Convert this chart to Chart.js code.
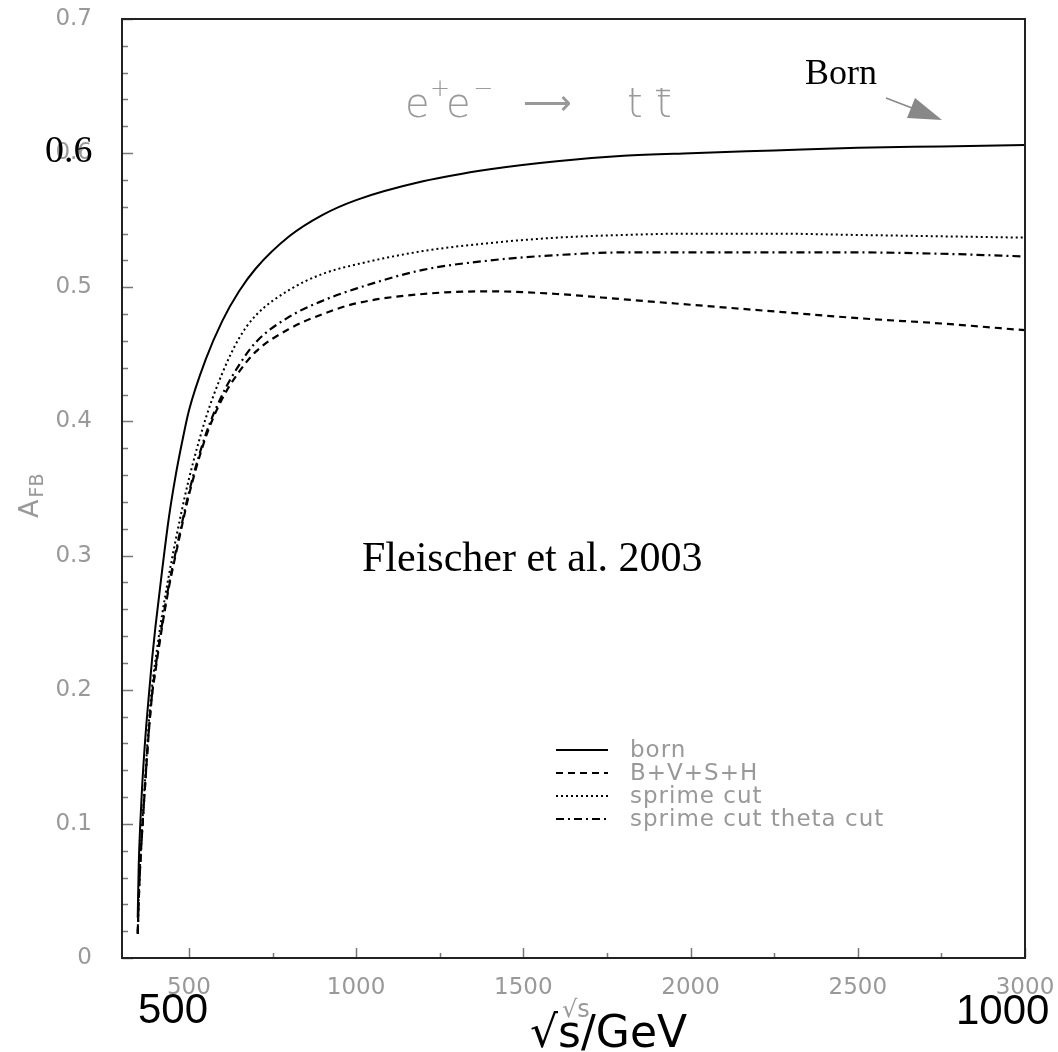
<!DOCTYPE html>
<html lang="en">
<head>
  <meta charset="UTF-8" />
  <title>A_FB vs sqrt(s)</title>
  <script src="https://cdn.jsdelivr.net/npm/chart.js"></script>
  <style>
    body { margin: 0; background: #fff; }
    #wrap { width: 1058px; height: 1052px; }
  </style>
</head>
<body>
  <div id="wrap"><canvas id="afbChart" width="1058" height="1052"></canvas></div>
  <script>
    // sqrt(s) in GeV, shared by all four curves
    const sqrtS = [347, 350, 355, 360, 370, 380, 390, 400, 420, 440, 460, 480, 500, 550, 600, 650, 700,
                   800, 900, 1000, 1200, 1400, 1600, 1800, 2000, 2250, 2500, 2750, 3000];

    const born = [0.030, 0.069, 0.102, 0.127, 0.165, 0.195, 0.223, 0.247, 0.289, 0.328, 0.359, 0.385, 0.408,
                  0.446, 0.475, 0.497, 0.514, 0.538, 0.554, 0.565, 0.579, 0.588, 0.594, 0.598, 0.600,
                  0.602, 0.604, 0.605, 0.606];
    const bvsh = [0.018, 0.042, 0.072, 0.093, 0.132, 0.168, 0.196, 0.214, 0.247, 0.276, 0.300, 0.323, 0.345,
                  0.388, 0.417, 0.437, 0.452, 0.469, 0.480, 0.488, 0.495, 0.497, 0.495, 0.491, 0.487,
                  0.482, 0.477, 0.473, 0.468];
    const sprimeCut = [0.020, 0.045, 0.075, 0.097, 0.137, 0.175, 0.203, 0.222, 0.256, 0.285, 0.311, 0.335, 0.357,
                       0.402, 0.436, 0.462, 0.479, 0.498, 0.510, 0.517, 0.527, 0.533, 0.537, 0.539, 0.540,
                       0.540, 0.539, 0.538, 0.537];
    const sprimeThetaCut = [0.018, 0.043, 0.073, 0.094, 0.133, 0.169, 0.197, 0.216, 0.249, 0.278, 0.302, 0.325, 0.347,
                            0.390, 0.420, 0.442, 0.459, 0.478, 0.490, 0.499, 0.513, 0.520, 0.524, 0.526, 0.526,
                            0.526, 0.526, 0.525, 0.523];

    const seriesLabels = ['born', 'B+V+S+H', 'sprime cut', 'sprime cut theta cut'];
    const xTicks = [500, 1000, 1500, 2000, 2500, 3000];
    const yTicks = [0, 0.1, 0.2, 0.3, 0.4, 0.5, 0.6, 0.7];

    const toPoints = ys => sqrtS.map((x, i) => ({ x: x, y: ys[i] }));

    const GRAY = '#999';

    // frame, inward ticks, labels and legend drawn on top of the chart
    const overlay = {
      id: 'overlay',
      afterDatasetsDraw(chart) {
        const { ctx, chartArea: a, scales: { x, y } } = chart;
        ctx.save();
        ctx.strokeStyle = '#777';
        ctx.lineWidth = 1.5;
        ctx.beginPath();
        for (let i = 0; i <= 35; i++) {
          const py = Math.round(y.getPixelForValue(i * 0.02)) + 0.5;
          const len = i % 5 === 0 ? 11 : 6;
          ctx.moveTo(a.left, py);
          ctx.lineTo(a.left + len, py);
        }
        for (let v = 500; v <= 3000; v += 250) {
          const px = Math.round(x.getPixelForValue(v)) + 0.5;
          const len = v % 500 === 0 ? 10 : 5;
          ctx.moveTo(px, a.bottom);
          ctx.lineTo(px, a.bottom - len);
        }
        ctx.stroke();
        ctx.strokeStyle = '#222';
        ctx.lineWidth = 2;
        ctx.strokeRect(a.left, a.top, a.right - a.left, a.bottom - a.top);
        ctx.restore();
      },
      afterDraw(chart) {
        const ctx = chart.ctx;
        ctx.save();

        // y axis title A_FB
        ctx.fillStyle = GRAY;
        ctx.translate(38, 518);
        ctx.rotate(-Math.PI / 2);
        ctx.font = '27px "DejaVu Sans"';
        ctx.textBaseline = 'alphabetic';
        ctx.fillText('A', 0, 0);
        const aw = ctx.measureText('A').width;
        ctx.font = '19px "DejaVu Sans"';
        ctx.fillText('FB', aw + 2, 5);
        ctx.setTransform(1, 0, 0, 1, 0, 0);

        // process label
        ctx.font = '200 40px "DejaVu Sans"';
        ctx.fillText('e', 405, 117);
        ctx.fillText('e', 446, 117);
        ctx.fillText('t', 627, 117);
        ctx.fillText('t', 656, 117);
        ctx.font = '200 24px "DejaVu Sans"';
        ctx.fillText('+', 430, 96);
        ctx.fillText('\u2212', 473, 96);
        ctx.font = '200 34px "DejaVu Sans"';
        ctx.fillText('\u27F6', 523, 114);
        ctx.strokeStyle = GRAY;
        ctx.lineWidth = 1.5;
        ctx.beginPath();
        ctx.moveTo(656, 90.5);
        ctx.lineTo(670, 90.5);
        ctx.stroke();

        // Born label with arrow
        ctx.fillStyle = '#000';
        ctx.font = '36px "Liberation Serif"';
        ctx.fillText('Born', 805, 84);
        ctx.strokeStyle = '#888';
        ctx.lineWidth = 1.5;
        ctx.beginPath();
        ctx.moveTo(886, 98);
        ctx.lineTo(912, 108);
        ctx.stroke();
        ctx.fillStyle = '#888';
        ctx.beginPath();
        ctx.moveTo(915, 98);
        ctx.lineTo(907, 118);
        ctx.lineTo(942, 120);
        ctx.closePath();
        ctx.fill();

        // big black overlay labels
        ctx.fillStyle = '#000';
        ctx.font = '38px "Liberation Serif"';
        ctx.fillText('0.6', 45, 162);
        ctx.font = '42px "Liberation Serif"';
        ctx.fillText('Fleischer et al. 2003', 362, 571);

        // original x axis title (grey, mostly hidden)
        ctx.fillStyle = GRAY;
        ctx.font = '24px "DejaVu Sans"';
        ctx.fillText('\u221As', 562, 1017);

        ctx.fillStyle = '#000';
        ctx.font = '42px "Liberation Sans"';
        ctx.fillText('500', 138, 1023);
        ctx.fillText('1000', 956, 1024);
        ctx.font = '44px "DejaVu Sans"';
        ctx.fillText('\u221As/GeV', 530, 1047);

        // legend
        const rows = [750, 773, 796, 819];
        chart.data.datasets.forEach((ds, i) => {
          ctx.strokeStyle = '#000';
          ctx.lineWidth = 2;
          ctx.setLineDash(ds.borderDash || []);
          ctx.beginPath();
          ctx.moveTo(556, rows[i]);
          ctx.lineTo(608, rows[i]);
          ctx.stroke();
          ctx.setLineDash([]);
          ctx.fillStyle = GRAY;
          ctx.font = '23px "DejaVu Sans"';
          ctx.letterSpacing = '1px';
          ctx.textBaseline = 'middle';
          ctx.fillText(ds.label, 630, rows[i] + 1);
          ctx.letterSpacing = '0px';
        });
        ctx.restore();
      }
    };

    const common = { borderColor: '#000', pointRadius: 0, fill: false, cubicInterpolationMode: 'monotone' };

    const noOverflow = s => {
      s.paddingTop = 0;
      s.paddingBottom = 0;
      s.paddingLeft = 0;
      s.paddingRight = 0;
    };

    new Chart(document.getElementById('afbChart').getContext('2d'), {
      type: 'line',
      data: {
        datasets: [
          Object.assign({ label: seriesLabels[0], data: toPoints(born), borderWidth: 2, borderDash: [] }, common),
          Object.assign({ label: seriesLabels[1], data: toPoints(bvsh), borderWidth: 2.2, borderDash: [7, 5] }, common),
          Object.assign({ label: seriesLabels[2], data: toPoints(sprimeCut), borderWidth: 2, borderDash: [2, 3] }, common),
          Object.assign({ label: seriesLabels[3], data: toPoints(sprimeThetaCut), borderWidth: 2.2, borderDash: [8, 4, 2, 4] }, common)
        ]
      },
      options: {
        responsive: false,
        animation: false,
        layout: { padding: { top: 19, right: 33, left: 0, bottom: 0 } },
        plugins: { legend: { display: false }, tooltip: { enabled: false } },
        scales: {
          x: {
            type: 'linear',
            min: 300,
            max: 3000,
            grid: { display: false, drawTicks: false },
            border: { display: false },
            afterBuildTicks: s => { s.ticks = xTicks.map(v => ({ value: v })); },
            afterFit: s => { s.height = 94; noOverflow(s); },
            ticks: {
              color: GRAY,
              font: { family: 'DejaVu Sans', size: 23 },
              padding: 16,
              maxRotation: 0,
              autoSkip: false,
              callback: v => String(v)
            }
          },
          y: {
            min: 0,
            max: 0.7,
            grid: { display: false, drawTicks: false },
            border: { display: false },
            afterBuildTicks: s => { s.ticks = yTicks.map(v => ({ value: v })); },
            afterFit: s => { s.width = 122; noOverflow(s); },
            ticks: {
              color: GRAY,
              font: { family: 'DejaVu Sans', size: 23 },
              padding: 30,
              callback: v => (v === 0 ? '0' : v.toFixed(1))
            }
          }
        }
      },
      plugins: [overlay]
    });
  </script>
</body>
</html>
